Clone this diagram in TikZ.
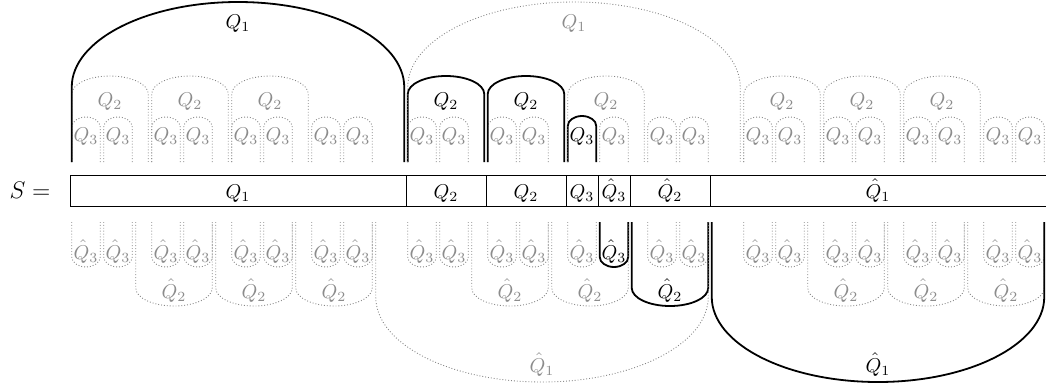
\documentclass[tikz,border=0pt]{standalone}
\begin{document}
\begin{tikzpicture}[x=0.5pt,y=-0.5pt,
  bold/.style={line width=0.9pt,black},
  faint/.style={densely dotted,line width=0.45pt,black!48},
  boldlbl/.style={anchor=base,inner sep=0pt,text=black},
  faintlbl/.style={anchor=base,inner sep=0pt,text=black!45},
  barlbl/.style={anchor=base,inner sep=0pt}]
\useasboundingbox (0,0) rectangle (1046,387);
\clip (0,0) rectangle (1046,387);
% arch above the bar: #1 x1, #2 x2, #3 top y, #4 y radius, #5 style
\newcommand\archup[5]{%
  \pgfmathsetmacro\aXa{#1+1.75}\pgfmathsetmacro\aXb{#2-1.75}%
  \pgfmathsetmacro\aXc{(#1+#2)/2}\pgfmathsetmacro\aRx{(\aXb-\aXa)/2}%
  \pgfmathsetmacro\aYl{#3+#4}%
  \draw[#5] (\aXa,162) -- (\aXa,\aYl)
    .. controls (\aXa,{\aYl-0.5523*#4}) and ({\aXc-0.5523*\aRx},#3) .. (\aXc,#3)
    .. controls ({\aXc+0.5523*\aRx},#3) and (\aXb,{\aYl-0.5523*#4}) .. (\aXb,\aYl)
    -- (\aXb,162);}
% arch below the bar: #1 x1, #2 x2, #3 bottom y, #4 y radius, #5 style
\newcommand\archdn[5]{%
  \pgfmathsetmacro\aXa{#1+1.75}\pgfmathsetmacro\aXb{#2-1.75}%
  \pgfmathsetmacro\aXc{(#1+#2)/2}\pgfmathsetmacro\aRx{(\aXb-\aXa)/2}%
  \pgfmathsetmacro\aYl{#3-#4}%
  \draw[#5] (\aXa,222) -- (\aXa,\aYl)
    .. controls (\aXa,{\aYl+0.5523*#4}) and ({\aXc-0.5523*\aRx},#3) .. (\aXc,#3)
    .. controls ({\aXc+0.5523*\aRx},#3) and (\aXb,{\aYl+0.5523*#4}) .. (\aXb,\aYl)
    -- (\aXb,222);}

% ---------- top: Q3 level ----------
\foreach \s in {70,102,150,182,230,262,310,342,406,438,486,518,598,646,678,742,774,822,854,902,934,982,1014}{
  \archup{\s}{\s+32}{117}{10}{faint}
  \node[faintlbl] (tq3-\s) at (\s+16,141) {$Q_3$};}
\archup{566}{598}{116}{10}{bold}
\node[boldlbl] (tq3-566) at (582,141) {$Q_3$};
% ---------- top: Q2 level ----------
\foreach \s in {70,150,230,566,742,822,902}{
  \archup{\s}{\s+80}{76}{18}{faint}
  \node[faintlbl] (tq2-\s) at (\s+40,106) {$Q_2$};}
\foreach \s in {406,486}{
  \archup{\s}{\s+80}{76}{18}{bold}
  \node[boldlbl] (tq2-\s) at (\s+40,106) {$Q_2$};}
% ---------- top: Q1 level ----------
\archup{406}{742}{2}{85}{faint}
\node[faintlbl] (tq1-406) at (574,28) {$Q_1$};
\archup{70}{406}{2}{85}{bold}
\node[boldlbl] (tq1-70) at (238,28) {$Q_1$};

% ---------- bottom: Q3 level ----------
\foreach \s in {70,102,150,182,230,262,310,342,406,438,486,518,566,646,678,742,774,822,854,902,934,982,1014}{
  \archdn{\s}{\s+32}{267}{10}{faint}
  \node[faintlbl] (bq3-\s) at (\s+16,259) {$\hat{Q}_3$};}
\archdn{598}{630}{267}{10}{bold}
\node[boldlbl] (bq3-598) at (614,259) {$\hat{Q}_3$};
% ---------- bottom: Q2 level ----------
\foreach \s in {134,214,294,470,550,806,886,966}{
  \archdn{\s}{\s+80}{306}{18}{faint}
  \node[faintlbl] (bq2-\s) at (\s+40,298) {$\hat{Q}_2$};}
\archdn{630}{710}{306}{18}{bold}
\node[boldlbl] (bq2-630) at (670,298) {$\hat{Q}_2$};
% ---------- bottom: Q1 level ----------
\archdn{374}{710}{382}{85}{faint}
\node[faintlbl] (bq1-374) at (542,372) {$\hat{Q}_1$};
\archdn{710}{1046}{382}{85}{bold}
\node[boldlbl] (bq1-710) at (878,372) {$\hat{Q}_1$};

% ---------- the bar ----------
\draw[line width=0.45pt] (70,175) rectangle (1070,206);
\foreach \d in {406,486,566,598,630,710}{
  \draw[line width=0.45pt] (\d,175) -- (\d,206);}
\node[barlbl] (s1) at (238,198) {$Q_1$};
\node[barlbl] (s2) at (446,198) {$Q_2$};
\node[barlbl] (s3) at (526,198) {$Q_2$};
\node[barlbl] (s4) at (582,198) {$Q_3$};
\node[barlbl] (s5) at (614,198) {$\hat{Q}_3$};
\node[barlbl] (s6) at (670,198) {$\hat{Q}_2$};
\node[barlbl] (s7) at (878,198) {$\hat{Q}_1$};
\node[barlbl] (seq) at (30,198) {\large $S=$};
\end{tikzpicture}
\end{document}
